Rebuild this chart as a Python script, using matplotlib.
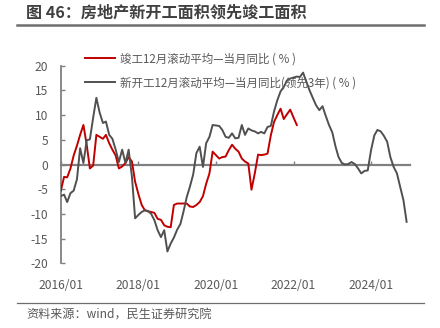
import matplotlib
matplotlib.use("Agg")
import matplotlib.pyplot as plt
from matplotlib.lines import Line2D
import pandas as pd

plt.rcParams['font.family'] = ['Noto Sans CJK SC', 'DejaVu Sans']

# 竣工面积 12个月滚动平均当月同比（%），2016/01 起
completed = [-5.3, -2.5, -2.6, -0.8, 1.8, 3.8, 6.0, 8.0, 4.0, -0.8, -0.2, 6.0,
             5.6, 5.2, 6.0, 4.3, 3.0, 1.8, -0.8, -0.4, 0.3, 1.5, 0.6, -3.5,
             -6.0, -8.2, -9.2, -9.5, -9.6, -9.8, -11.0, -11.2, -12.3, -12.6, -12.7, -8.2,
             -7.9, -7.9, -7.9, -7.9, -8.5, -8.6, -8.2, -7.6, -6.4, -3.9, -1.8, 2.6,
             1.9, 1.2, 1.5, 1.6, 2.9, 4.0, 3.2, 2.6, 1.2, 0.6, 0.2, -5.1,
             -1.8, 2.0, 1.9, 2.0, 2.2, 5.9, 8.6, 10.0, 11.3, 9.2, 10.2, 11.1,
             9.5, 8.0]

# 新开工面积 12个月滚动平均当月同比（%），领先3年，2016/01 起
new_starts = [-6.4, -6.1, -7.6, -5.8, -5.3, -3.0, 3.3, 0.3, 4.9, 5.1, 9.5, 13.5,
              10.5, 8.4, 8.7, 6.0, 5.2, 3.0, 0.5, 3.0, 0.3, 3.0, -2.5, -10.9,
              -10.2, -9.6, -9.3, -9.4, -10.0, -11.3, -13.3, -14.7, -13.3, -17.6, -16.0, -14.8,
              -13.2, -12.0, -9.6, -6.6, -4.5, -2.0, 2.3, 3.6, -0.5, 4.3, 5.6, 8.0,
              7.9, 7.8, 7.0, 5.6, 5.4, 6.3, 5.3, 5.4, 8.0, 6.0, 7.3, 6.9,
              6.7, 6.3, 6.6, 6.3, 7.6, 7.8, 10.7, 13.0, 14.8, 15.7, 17.0, 17.4,
              17.6, 17.8, 17.7, 18.6, 16.8, 15.0, 13.5, 12.0, 11.0, 11.8, 9.8, 8.0,
              6.5, 3.6, 1.5, 0.3, 0.0, 0.1, 0.5, 0.1, -0.8, -1.8, -1.3, -1.2,
              2.9, 5.9, 7.0, 6.7, 5.8, 4.6, 1.5, -0.5, -1.8, -4.5, -7.2, -11.6]

labels = ['竣工12月滚动平均—当月同比 ( % )',
          '新开工12月滚动平均—当月同比(领先3年) ( % )']
x_ticks = ['2016-01-01', '2018-01-01', '2020-01-01', '2022-01-01', '2024-01-01']
y_ticks = [20, 15, 10, 5, 0, -5, -10, -15, -20]

RED = '#C00000'
DARK = '#505050'
TXT = '#595959'

dates_c = pd.date_range('2016-01-01', periods=len(completed), freq='MS')
dates_n = pd.date_range('2016-01-01', periods=len(new_starts), freq='MS')

W, H = 440, 328
fig = plt.figure(figsize=(W / 100, H / 100), dpi=100)

# title and rules
fig.text(26 / W, 1 - 12.5 / H, '图 46：房地产新开工面积领先竣工面积', fontsize=11.6,
         fontweight='bold', color='#404040', ha='left', va='center')
fig.add_artist(Line2D([17 / W, 424 / W], [1 - 24.5 / H] * 2, color='#6e6e6e', lw=1.8))
fig.add_artist(Line2D([17 / W, 424 / W], [1 - 303.3 / H] * 2, color='#6e6e6e', lw=0.9))
fig.text(26 / W, 1 - 315.5 / H, '资料来源：wind，民生证券研究院', fontsize=8.7,
         color=TXT, ha='left', va='center')

left, right = 60.8, 409.9
top, bottom = 65.7, 263.3
ax = fig.add_axes([left / W, 1 - bottom / H, (right - left) / W, (bottom - top) / H])

l1, = ax.plot(dates_c, completed, color=RED, lw=1.4, zorder=3)
l2, = ax.plot(dates_n, new_starts, color=DARK, lw=1.4, zorder=3)

ax.set_xlim(pd.Timestamp('2016-01-01'), pd.Timestamp('2025-01-01'))
ax.set_ylim(-20, 20)

for s in ['top', 'right']:
    ax.spines[s].set_visible(False)
ax.spines['left'].set_color('#808080')
ax.spines['left'].set_linewidth(1.3)
ax.spines['bottom'].set_position(('data', 0))
ax.spines['bottom'].set_color('#808080')
ax.spines['bottom'].set_linewidth(1.6)
ax.spines['bottom'].set_zorder(2)

ax.set_yticks(y_ticks)
ax.set_yticklabels([str(v) for v in y_ticks])
ax.tick_params(axis='y', direction='in', length=3, width=1, color='#808080',
               labelsize=8.7, labelcolor=TXT, pad=9)

ax.set_xticks(pd.to_datetime(x_ticks))
ax.tick_params(axis='x', direction='in', length=3, width=1, color='#808080',
               labelbottom=False)

sec = ax.secondary_xaxis('bottom')
sec.set_xticks(pd.to_datetime(x_ticks))
sec.set_xticklabels([pd.Timestamp(t).strftime('%Y/%m') for t in x_ticks])
sec.spines['bottom'].set_visible(False)
sec.tick_params(axis='x', length=0, labelsize=8.7, labelcolor=TXT, pad=11)

leg = fig.legend([l1, l2], labels, loc='upper left',
                 bbox_to_anchor=(85 / W, 1 - 52.5 / H), frameon=False,
                 fontsize=8.3, labelcolor=TXT, handlelength=2.6,
                 handletextpad=0.45, labelspacing=0.95, borderpad=0,
                 borderaxespad=0)
leg.set_zorder(1)

fig.savefig('out.png', dpi=100)
